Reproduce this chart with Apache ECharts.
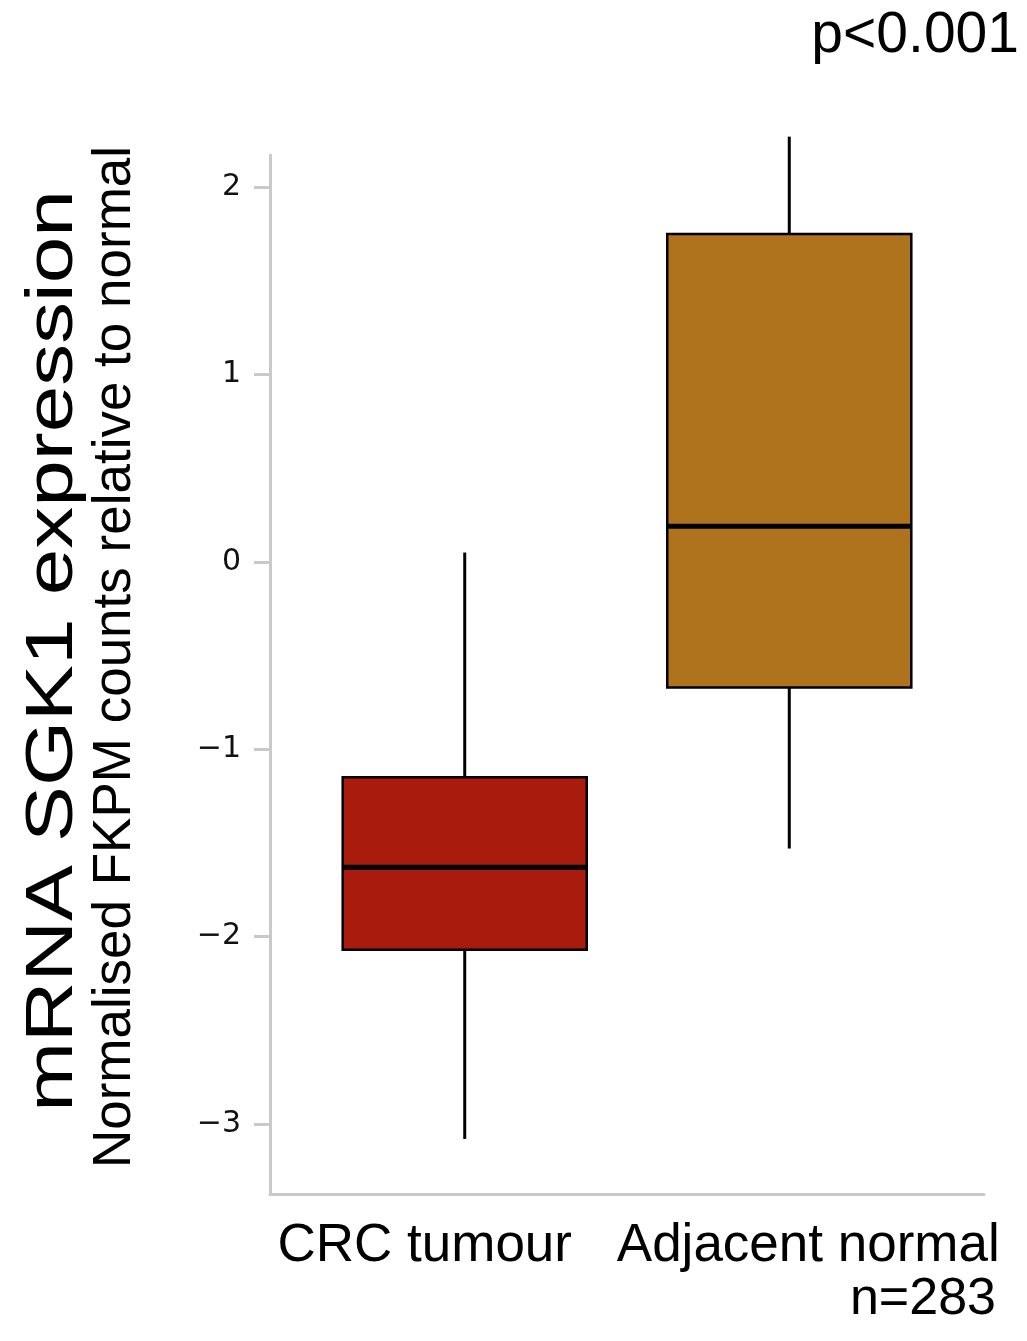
<!DOCTYPE html>
<html>
<head>
<meta charset="utf-8">
<script src="https://cdn.jsdelivr.net/npm/echarts@6/dist/echarts.min.js"></script>
<style>
  html, body { margin: 0; padding: 0; background: #ffffff; }
  #chart { width: 1027px; height: 1341px; }
</style>
</head>
<body>
<div id="chart"></div>
<script>
// Groups and their box-plot summaries (normalised FKPM, relative to normal)
const categories = ['CRC tumour', 'Adjacent normal'];
const groupPositions = [1, 2];
const lowerWhisker = [-3.08, -1.53];
const lowerQuartile = [-2.07, -0.67];
const medianValue = [-1.63, 0.19];
const upperQuartile = [-1.15, 1.75];
const upperWhisker = [0.05, 2.27];
const boxColors = ['#A91C0D', '#AE731C'];
const yTickValues = [-3, -2, -1, 0, 1, 2];

const FONT = '"Liberation Sans", Arial, Helvetica, sans-serif';
const TICK_FONT = '"DejaVu Sans", "Liberation Sans", sans-serif';
const BOX_WIDTH = 0.752;

const boxData = categories.map((name, i) => ({
  name: name,
  value: [groupPositions[i], lowerWhisker[i], lowerQuartile[i], medianValue[i], upperQuartile[i], upperWhisker[i]],
  itemStyle: { color: boxColors[i] }
}));

// Box with plain whiskers (no end caps) and a heavy median bar
function renderBox(params, api) {
  const x = api.value(0);
  const pLow = api.coord([x, api.value(1)]);
  const pQ1 = api.coord([x, api.value(2)]);
  const pMed = api.coord([x, api.value(3)]);
  const pQ3 = api.coord([x, api.value(4)]);
  const pHigh = api.coord([x, api.value(5)]);
  const w = api.size([BOX_WIDTH, 0])[0];
  const cx = pMed[0];
  const fill = boxColors[params.dataIndex];
  return {
    type: 'group',
    children: [
      { type: 'line', shape: { x1: cx, y1: pHigh[1], x2: cx, y2: pQ3[1] },
        style: { stroke: '#000', lineWidth: 3 } },
      { type: 'line', shape: { x1: cx, y1: pQ1[1], x2: cx, y2: pLow[1] },
        style: { stroke: '#000', lineWidth: 3 } },
      { type: 'rect', shape: { x: cx - w / 2, y: pQ3[1], width: w, height: pQ1[1] - pQ3[1] },
        style: { fill: fill, stroke: '#000', lineWidth: 2.5 } },
      { type: 'line', shape: { x1: cx - w / 2, y1: pMed[1], x2: cx + w / 2, y2: pMed[1] },
        style: { stroke: '#000', lineWidth: 5 } }
    ]
  };
}

const chart = echarts.init(document.getElementById('chart'), null, { renderer: 'canvas' });

chart.setOption({
  backgroundColor: '#ffffff',
  animation: false,
  grid: { left: 270, right: 43, top: 155, bottom: 147, containLabel: false },
  xAxis: {
    type: 'value',
    min: 0.4,
    max: 2.6,
    splitLine: { show: false },
    axisLine: { show: true, onZero: false, lineStyle: { color: '#c9c9c9', width: 3 } },
    axisTick: { show: false },
    axisLabel: {
      customValues: groupPositions,
      margin: 26,
      formatter: function (v) {
        const i = groupPositions.indexOf(v);
        return i === 0 ? '{a|' + categories[0] + '}' : '{b|' + categories[1] + '}';
      },
      rich: {
        a: { fontFamily: FONT, fontSize: 53, color: '#000', padding: [0, 80, 0, 0] },
        b: { fontFamily: FONT, fontSize: 53, color: '#000', padding: [0, 0, 0, 38] }
      }
    }
  },
  yAxis: {
    type: 'value',
    min: -3.374,
    max: 2.172,
    splitLine: { show: false },
    axisLine: { show: true, onZero: false, lineStyle: { color: '#c9c9c9', width: 3 } },
    axisTick: { show: true, customValues: yTickValues, length: 16, lineStyle: { color: '#c9c9c9', width: 3 } },
    axisLabel: {
      customValues: yTickValues,
      margin: 29,
      fontFamily: TICK_FONT,
      fontSize: 30,
      color: '#111',
      formatter: v => (v < 0 ? '\u2212' + Math.abs(v) : String(v))
    }
  },
  series: [{
    type: 'custom',
    clip: false,
    renderItem: renderBox,
    encode: { x: 0, y: [1, 2, 3, 4, 5] },
    data: boxData
  }],
  graphic: [
    { type: 'text', x: 54, y: 651, rotation: Math.PI / 2, scaleX: 1.25,
      style: { text: 'mRNA SGK1 expression', fontFamily: FONT, fontSize: 67, fill: '#000',
               align: 'center', verticalAlign: 'middle' } },
    { type: 'text', x: 115, y: 657, rotation: Math.PI / 2,
      style: { text: 'Normalised FKPM counts relative to normal', fontFamily: FONT, fontSize: 53, fill: '#000',
               align: 'center', verticalAlign: 'middle' } },
    { type: 'text', x: 1019, y: 36,
      style: { text: 'p<0.001', fontFamily: FONT, fontSize: 57, fill: '#000',
               align: 'right', verticalAlign: 'middle' } },
    { type: 'text', x: 996, y: 1300,
      style: { text: 'n=283', fontFamily: FONT, fontSize: 52, fill: '#000',
               align: 'right', verticalAlign: 'middle' } }
  ]
});
</script>
</body>
</html>
